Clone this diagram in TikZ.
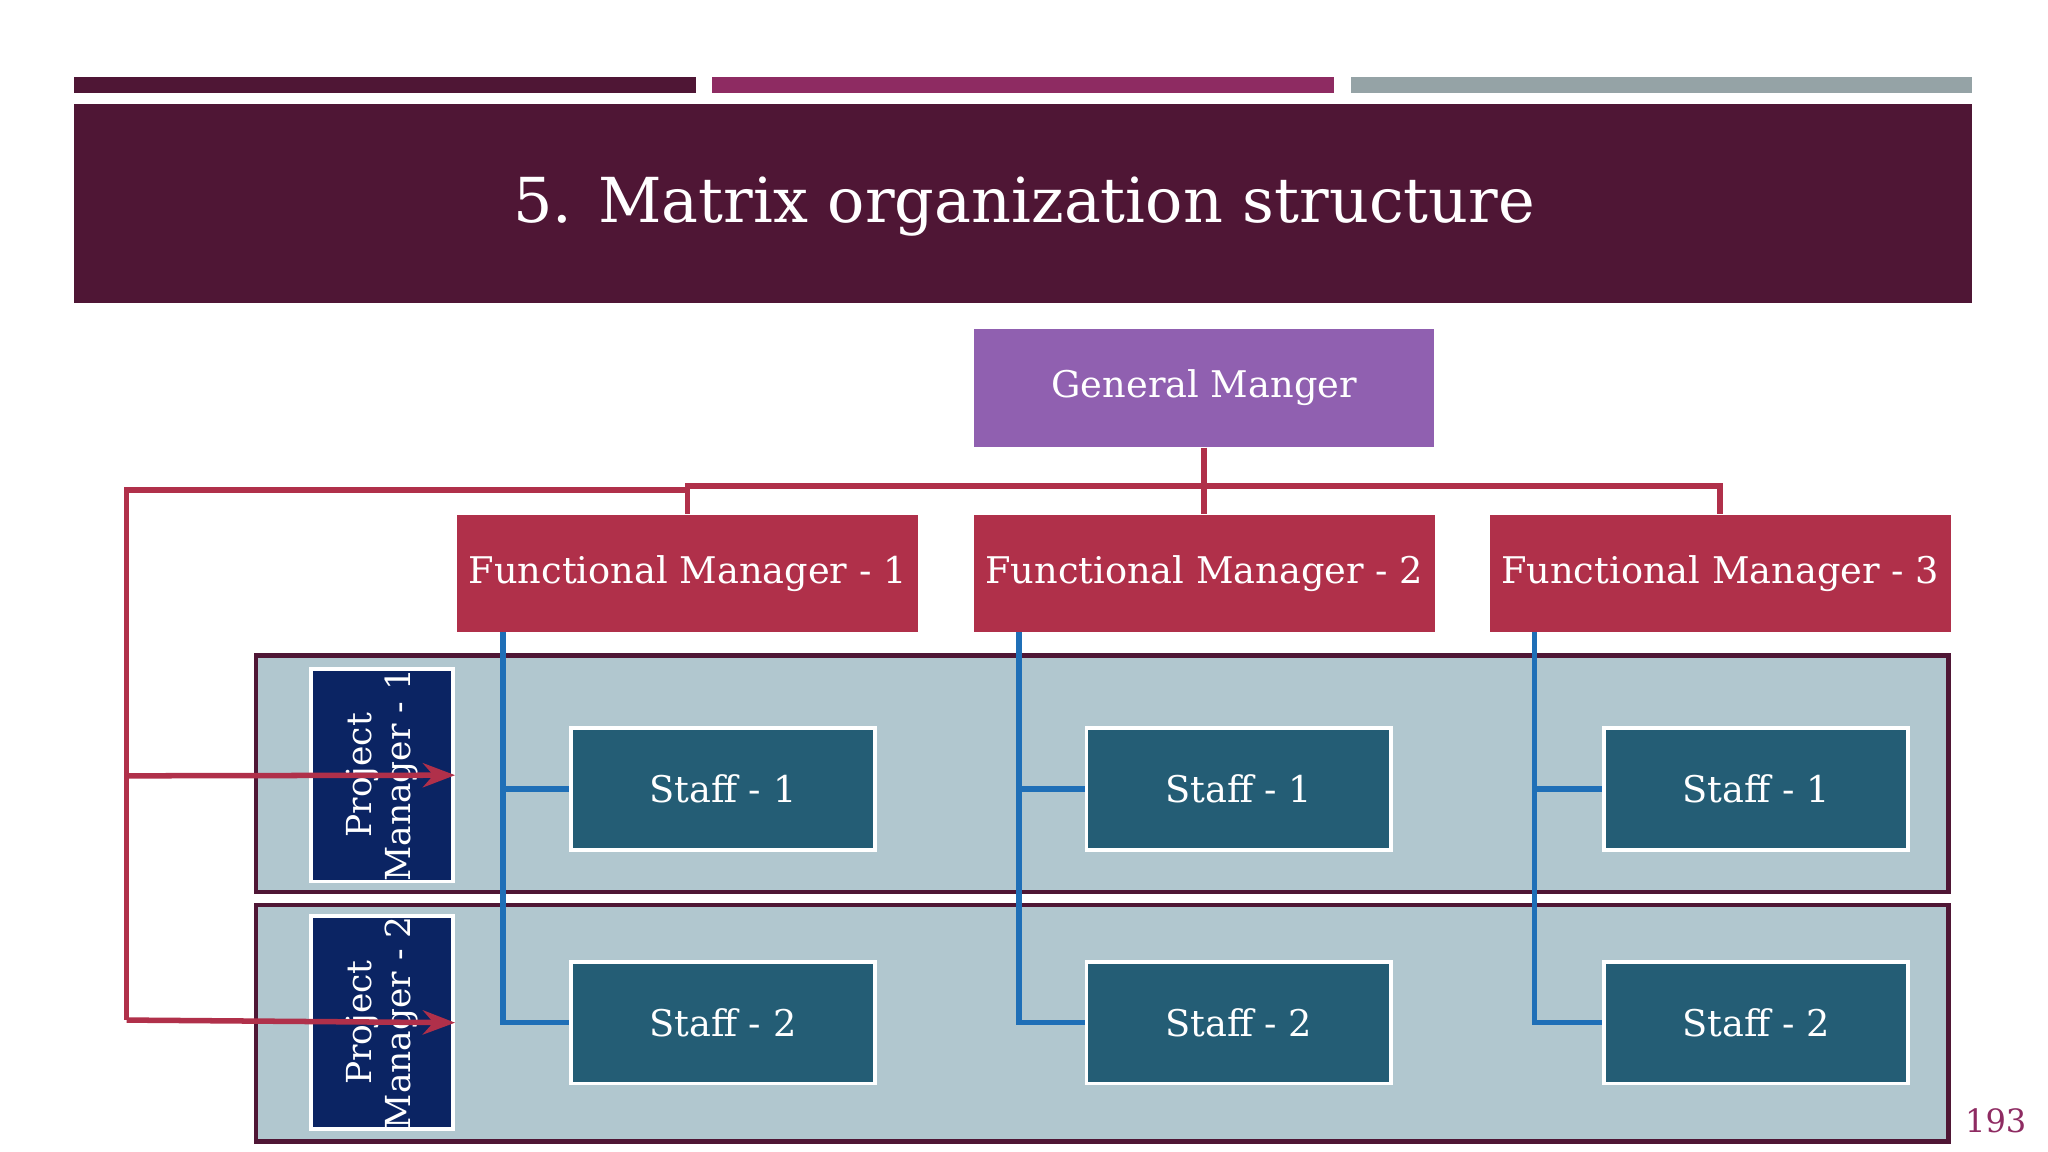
\documentclass[tikz,border=0pt]{standalone}
\usepackage{fontspec}
\setmainfont{DejaVu Serif}
\usetikzlibrary{arrows.meta}
\definecolor{dk}{HTML}{4F1635}
\definecolor{mg}{HTML}{8E2B62}
\definecolor{gy}{HTML}{95A3A6}
\definecolor{pu}{HTML}{9060B0}
\definecolor{rd}{HTML}{B0304A}
\definecolor{band}{HTML}{B1C7CF}
\definecolor{nv}{HTML}{0B2463}
\definecolor{st}{HTML}{245D75}
\definecolor{bl}{HTML}{1F6FB7}
\begin{document}
\begin{tikzpicture}[x=0.01cm,y=-0.01cm,
  box/.style={inner sep=0pt,text=white,font=\fontsize{8}{10}\selectfont},
  fm/.style={box,fill=rd,minimum width=3.53cm,minimum height=0.9cm},
  staffbox/.style={box,fill=st,draw=white,line width=0.8pt,minimum width=2.33cm,minimum height=0.93cm},
  pm/.style={box,fill=nv,draw=white,line width=0.8pt,minimum width=1.6cm,minimum height=1.09cm,rotate=90,align=center,font=\fontsize{7.5}{8.5}\selectfont},
  rl/.style={draw=rd,line width=1.2pt},
  bline/.style={draw=bl,line width=1.2pt}]
\useasboundingbox (0,0) rectangle (1568,882);
\fill[dk] (57,59) rectangle (533,71);
\fill[mg] (545,59) rectangle (1021,71);
\fill[gy] (1034,59) rectangle (1510,71);
\fill[dk] (57,80) rectangle (1510,232);
\node[box,font=\fontsize{13.5}{16}\selectfont] (title) at (784,158) {5. Matrix organization structure};
\node[box,fill=pu,minimum width=3.52cm,minimum height=0.9cm] (gm) at (922,297) {General Manger};
\node[fm] (f1) at (526.5,439) {Functional Manager - 1};
\node[fm] (f2) at (922,439) {Functional Manager - 2};
\node[fm] (f3) at (1317,439) {Functional Manager - 3};
\draw[dk,fill=band,line width=1pt] (196,502) rectangle (1492,683);
\draw[dk,fill=band,line width=1pt] (196,693) rectangle (1492,874);
\node[pm] (p1) at (292.5,593.5) {Project\\Manager - 1};
\node[pm] (p2) at (292.5,783) {Project\\Manager - 2};
\foreach \i/\x in {1/553.5,2/948.5,3/1344.5}{
  \node[staffbox] (s1\i) at (\x,604) {Staff - 1};
  \node[staffbox] (s2\i) at (\x,783) {Staff - 2};
}
\coordinate (j) at (922,372);
\draw[rl] (gm.south) -- (j);
\draw[rl] (f1.north) |- (j) -| (f3.north);
\draw[rl] (j) -- (f2.north);
\coordinate (c) at (97,375);
\draw[rl] (f1.north) |- (c) -- (97,781);
\draw[rl,-{Stealth[length=7pt]}] (97,594) -- (p1.south);
\draw[rl,-{Stealth[length=7pt]}] (97,781) -- (p2.south);
\foreach \i/\x in {1/385,2/780,3/1175}{
  \draw[bline] (\x,484) |- (s2\i.west);
  \draw[bline] (\x,604) -- (s1\i.west);
}
\node[text=mg,font=\fontsize{7}{8}\selectfont] (pg) at (1528,858) {193};
\end{tikzpicture}
\end{document}
